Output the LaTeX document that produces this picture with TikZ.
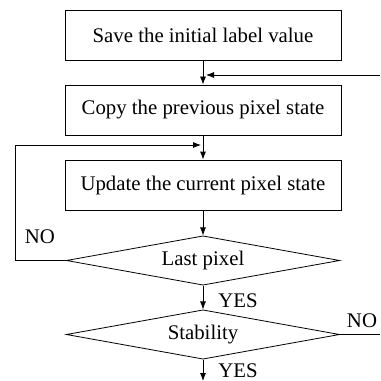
\documentclass[tikz,border=0pt]{standalone}
\usepackage{fontspec}
\setmainfont{Liberation Serif}
\usetikzlibrary{shapes.geometric,arrows.meta}
\begin{document}
\begin{tikzpicture}[x=0.75pt,y=-0.75pt,
  font=\fontsize{15.6}{18}\selectfont,
  stepbox/.style={draw,line width=0.6pt,minimum width=207pt,minimum height=37.5pt,inner sep=0pt},
  decision/.style={draw,diamond,line width=0.6pt,minimum width=205pt,minimum height=37pt,inner sep=0pt,aspect=5.5},
  flow/.style={line width=0.6pt,-{Latex[length=6pt,width=4.5pt]}},
  plain/.style={line width=0.6pt},
  lbl/.style={inner sep=0pt,anchor=base}]
\useasboundingbox (0,0) rectangle (380,381);
\node[stepbox] (save) at (203,35) {Save the initial label value};
\node[stepbox] (copy) at (203,110) {Copy the previous pixel state};
\node[stepbox] (upd) at (203,185) {Update the current pixel state};
\node[decision] (last) at (203,260.5) {Last pixel};
\node[decision] (stab) at (203,334.5) {Stability};
\coordinate (fbin) at (380,75);
\coordinate (fbend) at (206,75);
\coordinate (lpa) at (15,260.5);
\coordinate (lpb) at (15,145);
\coordinate (lpend) at (201,145);
\coordinate (stabout) at (380,334.5);
\coordinate (done) at (203,381);
\draw[flow] (save) -- (copy);
\draw[flow] (fbin) -- (fbend);
\draw[flow] (copy) -- (upd);
\draw[flow] (upd) -- (last);
\draw[flow] (last.west) -- (lpa) -- (lpb) -- (lpend);
\draw[flow] (last) -- (stab);
\draw[plain] (stab.east) -- (stabout);
\draw[flow] (stab) -- (done);
\node[lbl] (noa) at (40,243) {NO};
\node[lbl] (yesa) at (238,307) {YES};
\node[lbl] (nob) at (362,327) {NO};
\node[lbl] (yesb) at (238,377) {YES};
\end{tikzpicture}
\end{document}
